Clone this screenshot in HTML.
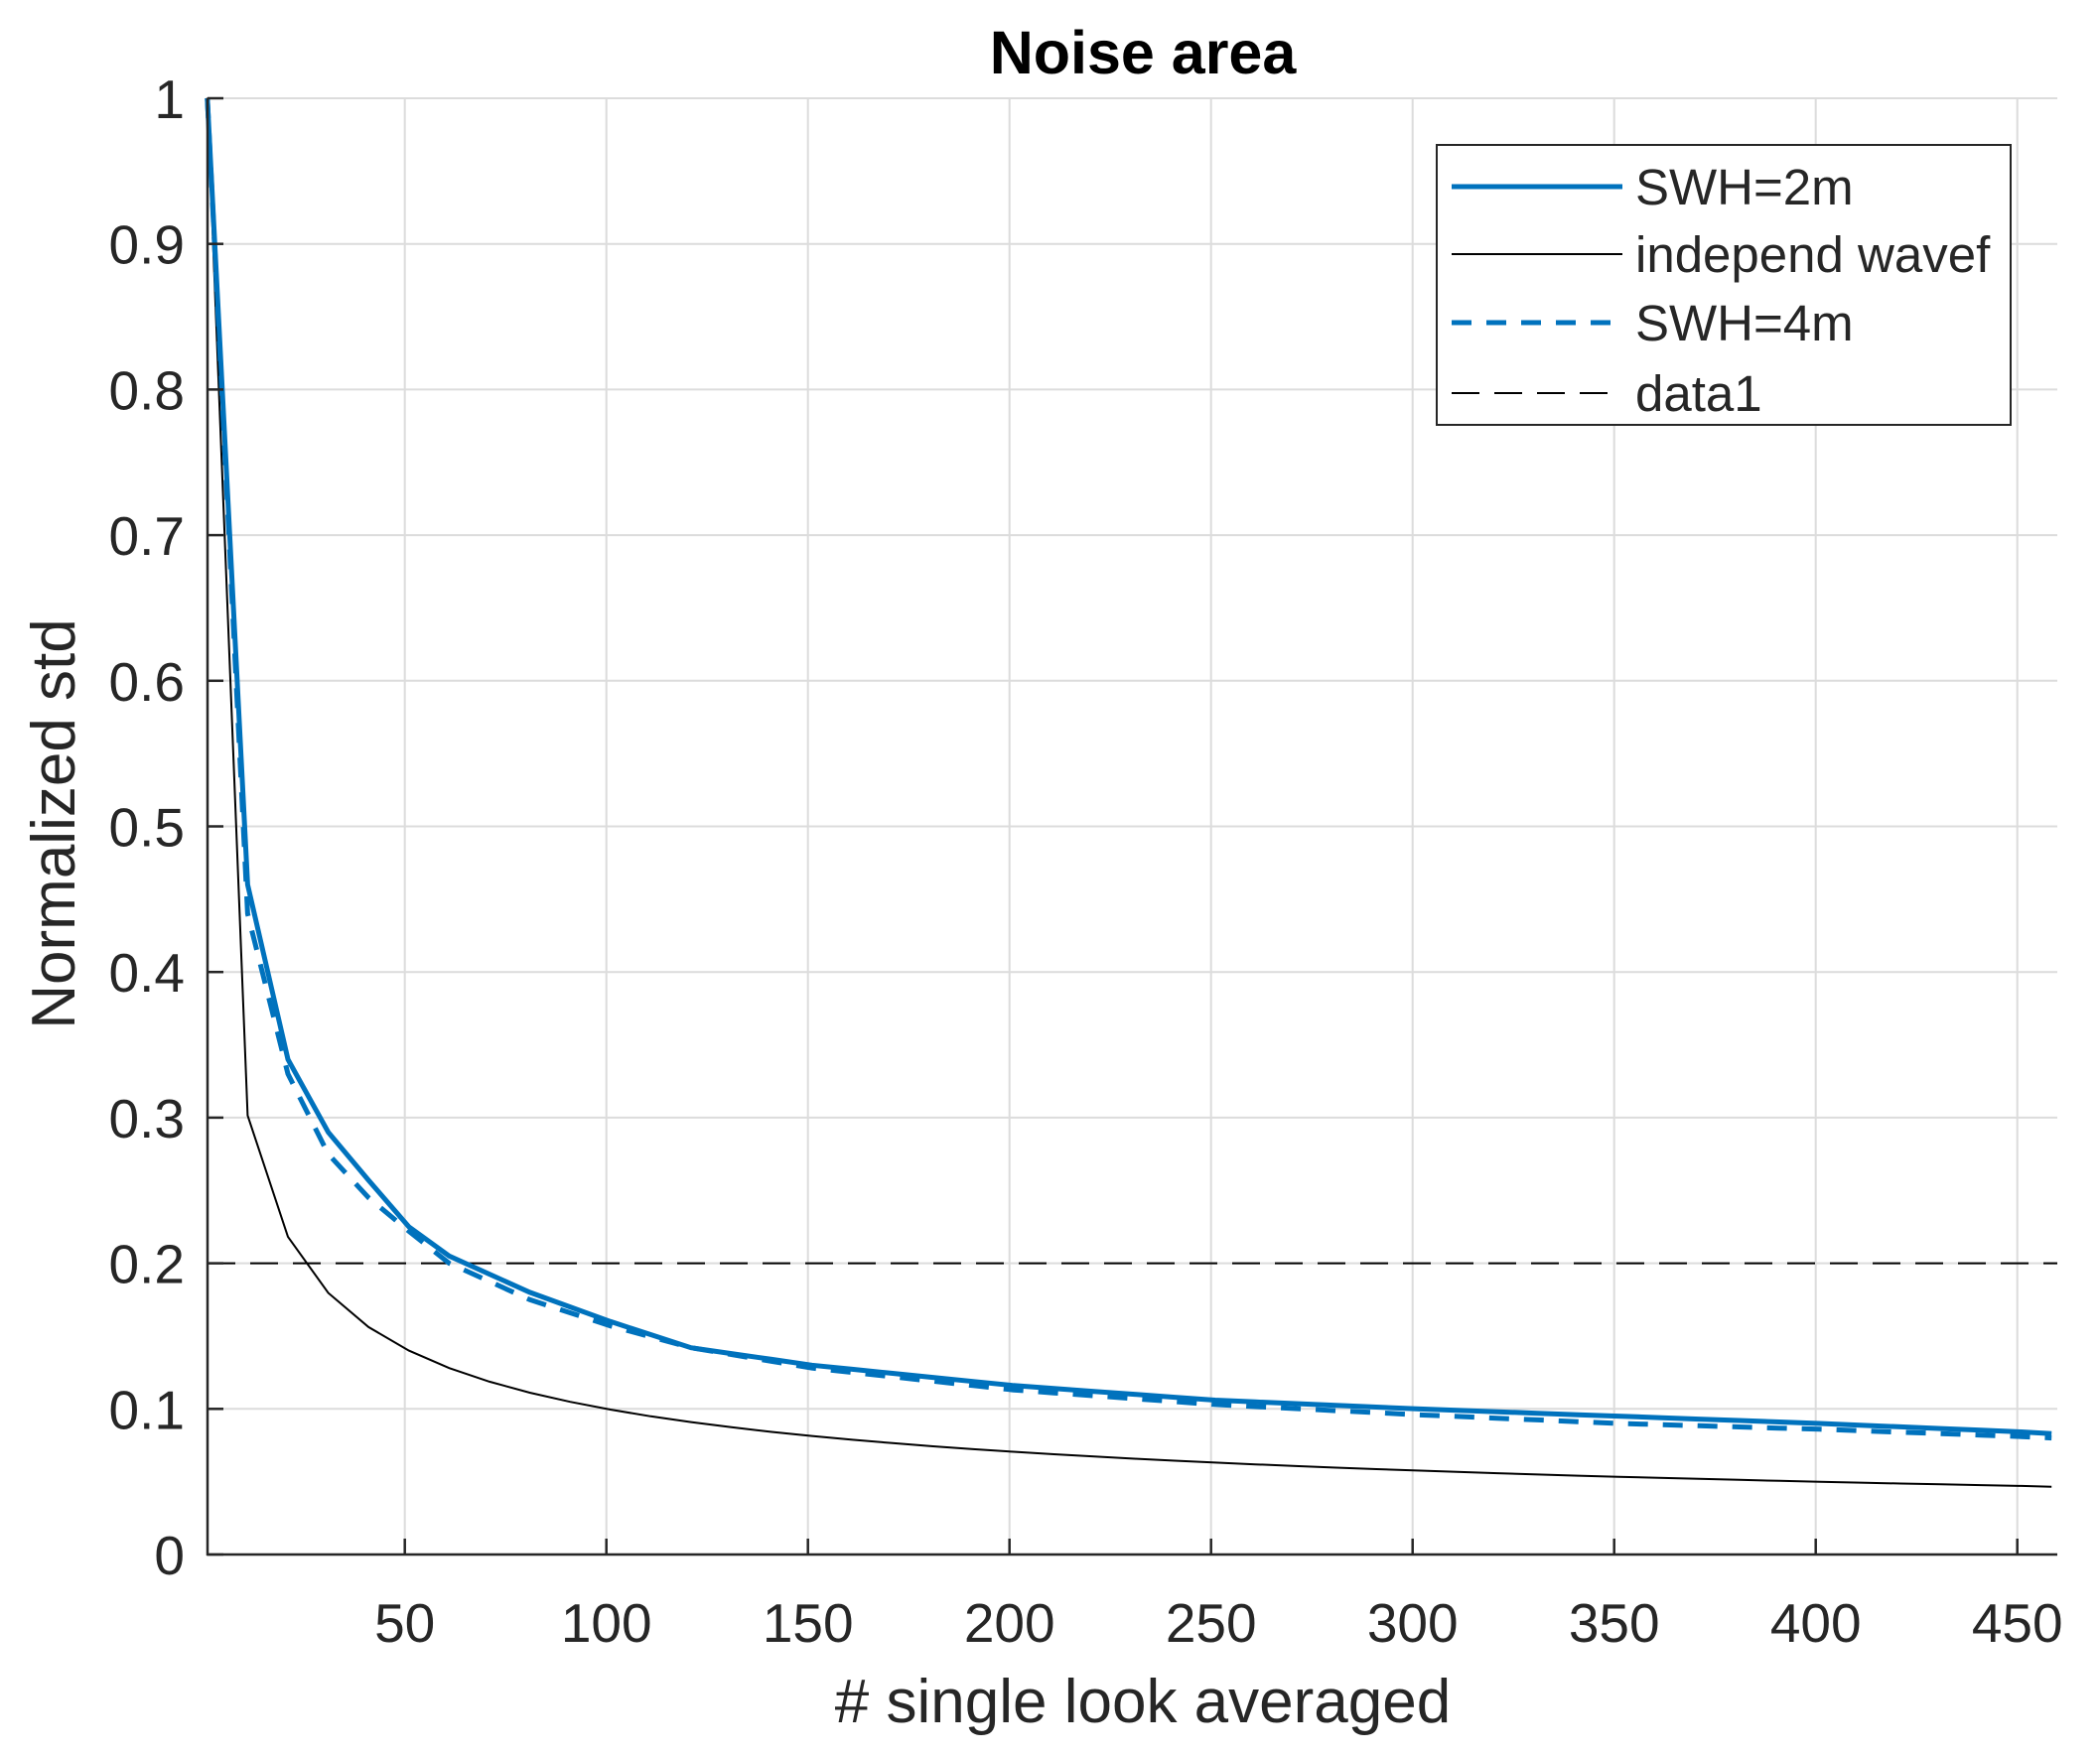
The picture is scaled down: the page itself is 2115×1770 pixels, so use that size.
<!DOCTYPE html>
<html><head><meta charset="utf-8"><style>
html,body{margin:0;padding:0;background:#fff}
svg{display:block}
text{font-family:"Liberation Sans",Arial,sans-serif;fill:#262626}
</style></head><body>
<svg id="s" width="2115" height="1770" viewBox="0 0 2115 1770" xmlns="http://www.w3.org/2000/svg">
<g id="grid" stroke="#dcdcdc" stroke-width="2"></g>
<g id="data"></g>
<g id="axes"></g>
<text x="1151" y="74" font-size="61" font-weight="bold" text-anchor="middle" style="fill:#000">Noise area</text>
<text x="1151" y="1735" font-size="62" text-anchor="middle"># single look averaged</text>
<text transform="translate(75,830) rotate(-90)" font-size="62" text-anchor="middle">Normalized std</text>
<g id="legend">
<rect x="1447" y="146" width="578" height="282" fill="#fff" stroke="#262626" stroke-width="2"/>
<line x1="1462" y1="188" x2="1634" y2="188" stroke="#0072BD" stroke-width="5"/>
<text x="1647" y="206" font-size="51">SWH=2m</text>
<line x1="1462" y1="256" x2="1634" y2="256" stroke="#000" stroke-width="2"/>
<text x="1647" y="274" font-size="51">independ wavef</text>
<line x1="1462" y1="325" x2="1634" y2="325" stroke="#0072BD" stroke-width="5" stroke-dasharray="20,15"/>
<text x="1647" y="343" font-size="51">SWH=4m</text>
<line x1="1462" y1="396" x2="1634" y2="396" stroke="#000" stroke-width="2" stroke-dasharray="28,15"/>
<text x="1647" y="414" font-size="51">data1</text>
</g>
</svg>
<script>
var X=function(x){return 204.7+x*4.06},Y=function(y){return 1566-y*1467};
var L=209,R=2072,T=98.5,B=1566,ns="http://www.w3.org/2000/svg";
function el(p,t,a){var e=document.createElementNS(ns,t);for(var k in a)e.setAttribute(k,a[k]);document.getElementById(p).appendChild(e);return e;}
for(var x=50;x<=450;x+=50){el("grid","line",{x1:X(x),y1:T,x2:X(x),y2:B});}
for(var i=1;i<=10;i++){el("grid","line",{x1:L,y1:Y(i/10),x2:R,y2:Y(i/10)});}
el("axes","line",{x1:L,y1:T,x2:L,y2:B+1,stroke:"#262626","stroke-width":2.5});
el("axes","line",{x1:L-1,y1:B,x2:R,y2:B,stroke:"#262626","stroke-width":2.5});
for(var x=50;x<=450;x+=50){el("axes","line",{x1:X(x),y1:B,x2:X(x),y2:B-16,stroke:"#262626","stroke-width":2.5});
 var t=el("axes","text",{x:X(x),y:1654,"font-size":55,"text-anchor":"middle"});t.textContent=x;}
for(var i=0;i<=10;i++){var v=i/10;el("axes","line",{x1:L,y1:Y(v),x2:L+16,y2:Y(v),stroke:"#262626","stroke-width":2.5});
 var t=el("axes","text",{x:186,y:Y(v)+20,"font-size":55,"text-anchor":"end"});t.textContent=(i==0?"0":i==10?"1":v.toFixed(1));}
el("data","line",{x1:L,y1:Y(0.2),x2:R,y2:Y(0.2),stroke:"#000","stroke-width":2,"stroke-dasharray":"28,15"});
function interp(tab,x){for(var i=0;i<tab.length-1;i++){if(x<=tab[i+1][0]){var a=tab[i],b=tab[i+1];return a[1]+(b[1]-a[1])*(x-a[0])/(b[0]-a[0]);}}return tab[tab.length-1][1];}
var s2=[[1,1],[11,0.46],[21,0.34],[31,0.29],[41,0.257],[51,0.225],[61,0.205],[81,0.18],[101,0.16],[121,0.142],[151,0.13],[201,0.116],[251,0.106],[301,0.1],[351,0.095],[401,0.09],[461,0.083]];
var s4=[[1,1],[11,0.44],[21,0.33],[31,0.275],[41,0.245],[51,0.222],[61,0.2],[81,0.175],[101,0.157],[121,0.142],[151,0.128],[201,0.113],[251,0.103],[301,0.096],[351,0.09],[401,0.086],[461,0.08]];
function path(f){var d="";for(var n=1;n<=461;n+=10){d+=(n==1?"M":"L")+X(Math.min(n,458.5)).toFixed(1)+","+Y(f(n)).toFixed(1);}return d;}
el("data","path",{d:path(function(n){return 1/Math.sqrt(n)}),fill:"none",stroke:"#000","stroke-width":2});
el("data","path",{d:path(function(n){return interp(s4,n)}),fill:"none",stroke:"#0072BD","stroke-width":5,"stroke-dasharray":"20,15"});
el("data","path",{d:path(function(n){return interp(s2,n)}),fill:"none",stroke:"#0072BD","stroke-width":5});
</script>
</body></html>
